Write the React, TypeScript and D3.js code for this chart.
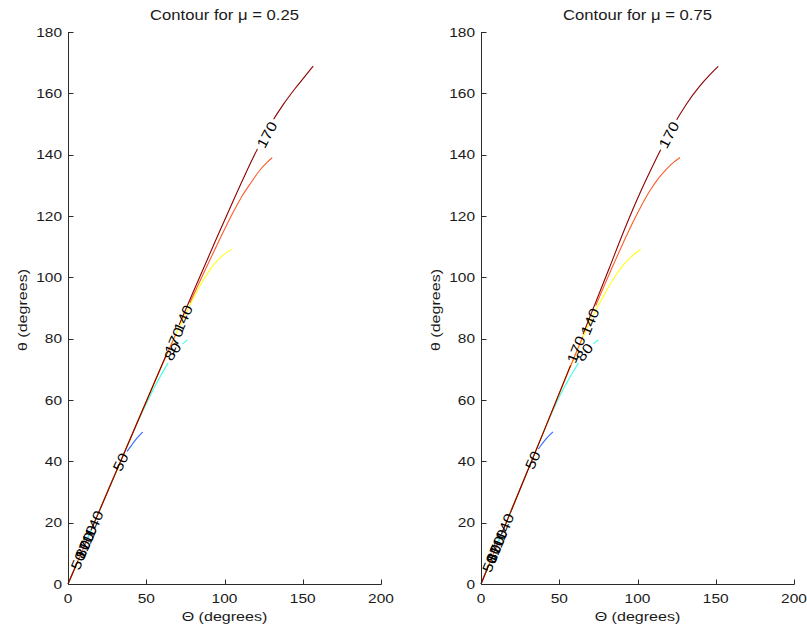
import React from 'react';
import * as d3 from 'd3';

type Pt = [number, number];

// ---------- data ----------
const levels = [50, 80, 110, 140, 170];
const levelColors = ['#2a6cff', '#36ffe6', '#ffff14', '#ff5a26', '#8c0000'];
const xTickValues = [0, 50, 100, 150, 200];
const yTickValues = [0, 20, 40, 60, 80, 100, 120, 140, 160, 180];
const panelTitles = ['Contour for \u03bc = 0.25', 'Contour for \u03bc = 0.75'];
const xAxisLabel = '\u0398 (degrees)';
const yAxisLabel = '\u03b8 (degrees)';

// left panel (mu = 0.25): [Theta, theta]
const leftCurve50: Pt[] = [[0, 0], [10, 11.9], [20, 23.8], [30, 35.7], [35.3, 41.3], [40.7, 45.3], [44.5, 47.8], [47.7, 49.5]];
const leftCurve80: Pt[] = [[0, 0], [20, 23.8], [40, 47.5], [45, 53.3], [50, 58.8], [57.7, 66.5], [65.2, 73], [70.5, 76.8], [76.2, 79.6]];
const leftCurve110: Pt[] = [[0, 0], [20, 23.8], [40, 47.6], [60, 71.3], [70, 82.6], [76.9, 89.9], [82.2, 95.2], [87.5, 100], [92.9, 104], [98.5, 107], [104.6, 109.2]];
const leftCurve140: Pt[] = [[0, 0], [20, 23.8], [40, 47.6], [60, 71.3], [75, 88.5], [89.6, 104.5], [97.5, 113], [105.6, 121.3], [111, 126.3], [116.3, 130.4], [122.7, 135], [127, 137.4], [130.5, 139]];
const leftCurve170: Pt[] = [[0, 0], [20, 23.8], [40, 47.6], [60, 71.4], [80, 95.2], [95, 112.8], [105.6, 125], [113, 133.3], [120.6, 141.4], [129.1, 149.6], [137.6, 156.4], [145, 161.5], [151, 165.3], [156.7, 168.9]];

// right panel (mu = 0.75)
const rightCurve50: Pt[] = [[0, 0], [10, 12.4], [20, 24.8], [30, 37.2], [34, 41.8], [38, 45], [42, 47.6], [46, 49.6]];
const rightCurve80: Pt[] = [[0, 0], [20, 24.8], [40, 49.6], [46, 56.6], [51, 62], [56.9, 67.5], [61, 71], [65.4, 74.5], [70, 77.4], [75, 79.6]];
const rightCurve110: Pt[] = [[0, 0], [20, 24.8], [40, 49.6], [60, 74.4], [68, 83.8], [73.9, 89.8], [80.3, 95.8], [86, 100.6], [90.9, 104], [96.5, 107], [102, 109.1]];
const rightCurve140: Pt[] = [[0, 0], [20, 24.8], [40, 49.6], [60, 74.5], [72, 89.2], [84.5, 104], [97.3, 118.2], [108, 128.3], [114, 132.7], [118.7, 135.4], [123, 137.5], [127.2, 139.1]];
const rightCurve170: Pt[] = [[0, 0], [20, 24.8], [40, 49.6], [60, 74.8], [81.8, 102.8], [92, 116], [101.6, 127.5], [108, 134.5], [114.4, 141.2], [122.9, 149.5], [131, 156.3], [139.9, 162.4], [146, 165.9], [151.6, 168.8]];

type Lbl = { text: string; curve: number; x: number; y: number };

const leftLabels: Lbl[] = [
  { text: '50', curve: 0, x: 6.5, y: 7.7 },
  { text: '80', curve: 1, x: 9.5, y: 11.3 },
  { text: '170', curve: 4, x: 10.5, y: 12.5 },
  { text: '110', curve: 2, x: 12.5, y: 14.9 },
  { text: '140', curve: 3, x: 16.5, y: 19.6 },
  { text: '50', curve: 0, x: 33.5, y: 39.8 },
  { text: '80', curve: 1, x: 66.8, y: 75.8 },
  { text: '170', curve: 4, x: 67.7, y: 79.3 },
  { text: '140', curve: 3, x: 73.5, y: 86.6 },
  { text: '170', curve: 4, x: 127, y: 146.5 },
];

const rightLabels: Lbl[] = [
  { text: '50', curve: 0, x: 5.5, y: 6.8 },
  { text: '80', curve: 1, x: 8, y: 9.9 },
  { text: '170', curve: 4, x: 9, y: 11.2 },
  { text: '110', curve: 2, x: 11, y: 13.6 },
  { text: '140', curve: 3, x: 15, y: 18.6 },
  { text: '50', curve: 0, x: 33, y: 40.4 },
  { text: '80', curve: 1, x: 66, y: 75.6 },
  { text: '170', curve: 4, x: 60.7, y: 76.5 },
  { text: '140', curve: 3, x: 69.6, y: 85.6 },
  { text: '170', curve: 4, x: 120, y: 146.5 },
];

const leftCurves = [leftCurve50, leftCurve80, leftCurve110, leftCurve140, leftCurve170];
const rightCurves = [rightCurve50, rightCurve80, rightCurve110, rightCurve140, rightCurve170];

// ---------- layout ----------
const W = 807;
const H = 629;
const PLOT_W = 313;
const TOP = 32;
const BOTTOM = 584;
const FONT = "'Liberation Sans', Arial, Helvetica, sans-serif";
const SX = 1.19;
const LBL_SIZE = 14;
const TXT = '#1a1a1a';
const AX = '#2b2b2b';

function segDist(px: number, py: number, ax: number, ay: number, bx: number, by: number) {
  const dx = bx - ax, dy = by - ay;
  const l2 = dx * dx + dy * dy || 1;
  let t = ((px - ax) * dx + (py - ay) * dy) / l2;
  t = Math.max(0, Math.min(1, t));
  const qx = ax + t * dx, qy = ay + t * dy;
  return (px - qx) ** 2 + (py - qy) ** 2;
}

function Panel({ left, curves, labels, title, idx }: { left: number; curves: Pt[][]; labels: Lbl[]; title: string; idx: number }) {
  const x = d3.scaleLinear().domain([0, 200]).range([left, left + PLOT_W]);
  const y = d3.scaleLinear().domain([0, 180]).range([BOTTOM, TOP]);
  const line = d3.line<Pt>().x((d) => x(d[0])).y((d) => y(d[1])).curve(d3.curveMonotoneX);

  const geom = labels.map((l) => {
    const pts = curves[l.curve];
    const px = x(l.x), py = y(l.y);
    let best = 0, bd = Infinity;
    for (let i = 0; i < pts.length - 1; i++) {
      const d = segDist(px, py, x(pts[i][0]), y(pts[i][1]), x(pts[i + 1][0]), y(pts[i + 1][1]));
      if (d < bd) { bd = d; best = i; }
    }
    const a = pts[best], b = pts[best + 1];
    const ang = (Math.atan2(y(b[1]) - y(a[1]), x(b[0]) - x(a[0])) * 180) / Math.PI;
    const w = l.text.length * 0.556 * LBL_SIZE * SX + 6;
    return { ...l, px, py, ang, w };
  });

  const cx = left + PLOT_W / 2;
  const ax0 = Math.round(left) + 0.5;

  return (
    <g>
      <defs>
        {curves.map((_, ci) => (
          <mask key={ci} id={`m-${idx}-${ci}`} maskUnits="userSpaceOnUse" x={0} y={0} width={W} height={H}>
            <rect x={0} y={0} width={W} height={H} fill="white" />
            {geom.filter((g) => g.curve === ci).map((g, k) => (
              <rect key={k} x={-g.w / 2} y={-6} width={g.w} height={12} fill="black"
                transform={`translate(${g.px},${g.py}) rotate(${g.ang})`} />
            ))}
          </mask>
        ))}
      </defs>

      {/* title */}
      <text transform={`translate(${cx},20) scale(${SX},1)`} textAnchor="middle" fontFamily={FONT} fontSize={14} fill={TXT}>{title}</text>

      {/* curves */}
      {curves.map((c, ci) => (
        <path key={ci} d={line(c) || ''} fill="none" stroke={levelColors[ci]} strokeWidth={1.1}
          mask={`url(#m-${idx}-${ci})`} />
      ))}

      {/* contour labels */}
      {geom.map((g, k) => (
        <text key={k} transform={`translate(${g.px},${g.py}) rotate(${g.ang}) scale(${SX},1)`}
          textAnchor="middle" dy="0.36em" fontFamily={FONT} fontSize={LBL_SIZE} fill="#000">{g.text}</text>
      ))}

      {/* axes */}
      <line x1={ax0} x2={ax0} y1={TOP} y2={BOTTOM + 0.5} stroke={AX} strokeWidth={1} />
      <line x1={ax0} x2={left + PLOT_W + 0.5} y1={BOTTOM + 0.5} y2={BOTTOM + 0.5} stroke={AX} strokeWidth={1} />
      {yTickValues.map((v) => {
        const yy = Math.round(y(v)) + 0.5;
        return (
          <g key={`y${v}`}>
            <line x1={ax0} x2={ax0 + 5} y1={yy} y2={yy} stroke={AX} strokeWidth={1} />
            <text transform={`translate(${left - 6},${y(v)}) scale(${SX},1)`} textAnchor="end" dy="0.36em"
              fontFamily={FONT} fontSize={13} fill={TXT}>{v}</text>
          </g>
        );
      })}
      {xTickValues.map((v) => {
        const xx = Math.round(x(v)) + 0.5;
        return (
          <g key={`x${v}`}>
            <line x1={xx} x2={xx} y1={BOTTOM + 0.5} y2={BOTTOM - 4.5} stroke={AX} strokeWidth={1} />
            <text transform={`translate(${x(v)},603) scale(${SX},1)`} textAnchor="middle"
              fontFamily={FONT} fontSize={13} fill={TXT}>{v}</text>
          </g>
        );
      })}
      <text transform={`translate(${cx},621) scale(${SX},1)`} textAnchor="middle" fontFamily={FONT} fontSize={13.5} fill={TXT}>{xAxisLabel}</text>
      <text transform={`translate(${left - 41},310) rotate(-90) scale(${SX},1)`} textAnchor="middle" fontFamily={FONT} fontSize={13.5} fill={TXT}>{yAxisLabel}</text>
    </g>
  );
}

export default function App() {
  return (
    <svg width={W} height={H} viewBox={`0 0 ${W} ${H}`}
      style={{ position: 'absolute', left: 0, top: 0, background: '#fff', display: 'block' }}>
      <rect x={0} y={0} width={W} height={H} fill="#fff" />
      <Panel left={68} curves={leftCurves} labels={leftLabels} title={panelTitles[0]} idx={0} />
      <Panel left={481} curves={rightCurves} labels={rightLabels} title={panelTitles[1]} idx={1} />
    </svg>
  );
}
